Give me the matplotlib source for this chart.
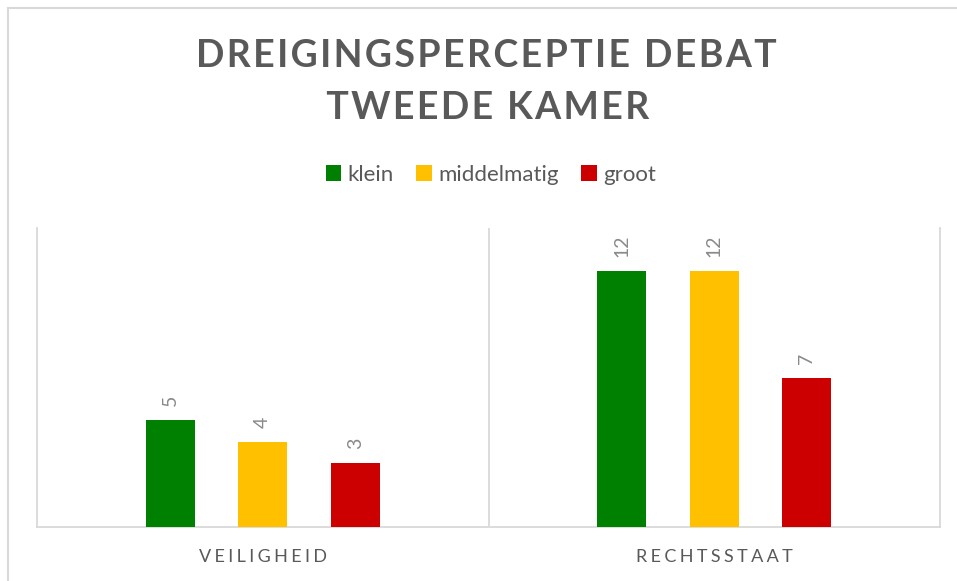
import numpy as np
import matplotlib.pyplot as plt
from matplotlib.lines import Line2D

plt.rcParams['font.family'] = ['Lato', 'DejaVu Sans']

# data
categories = ['VEILIGHEID', 'RECHTSSTAAT']
series_names = ['klein', 'middelmatig', 'groot']
klein = [5, 12]
middelmatig = [4, 12]
groot = [3, 7]
series_values = [klein, middelmatig, groot]
colors = ['#008000', '#FFC000', '#CC0000']

title = 'DREIGINGSPERCEPTIE DEBAT\nTWEEDE KAMER'

W, H = 957, 581
fig = plt.figure(figsize=(W / 100, H / 100), dpi=100)
ax = fig.add_axes([37 / W, 1 - 527 / H, (940 - 37) / W, (527 - 228) / H])

def spaced(s, sep):
    # fake letter spacing
    return sep.join(s)

x = np.arange(len(categories))
offsets = [-0.205, 0.0, 0.205]
bw = 0.109
bars = []
for vals, off, c, name in zip(series_values, offsets, colors, series_names):
    b = ax.bar(x + off, vals, bw, color=c, label=name, zorder=3)
    bars.append(b)
    for xi, v in zip(x + off, vals):
        ax.annotate(str(v), (xi, v), xytext=(0, 10), textcoords='offset points',
                    rotation=90, ha='center', va='bottom', fontsize=14,
                    color='#8a8a8a')

ax.set_xlim(-0.5, len(categories) - 0.5)
ax.set_ylim(0, 14)
ax.set_yticks([])
ax.set_xticks(x)
ax.set_xticklabels([spaced(c, '\u2009\u200a') for c in categories], fontsize=13,
                   color='#595959')
ax.tick_params(axis='x', length=0, pad=16)
for xv in np.arange(0.5, len(categories) - 0.5):
    ax.axvline(xv, color='#d9d9d9', lw=1.3, zorder=1)
for s in ['left', 'right', 'bottom']:
    ax.spines[s].set_color('#d9d9d9')
    ax.spines[s].set_linewidth(1.3)
ax.spines['top'].set_visible(False)

fig.text(0.509, 1 - 82 / H, spaced(title, '\u200a'), ha='center', va='center',
         fontsize=27, fontweight='bold', color='#595959', linespacing=1.65)

fig.legend(handles=bars, loc='center', bbox_to_anchor=(0.513, 1 - 175 / H),
           ncol=3, frameon=False, fontsize=16, handlelength=0.7,
           handleheight=0.7, handletextpad=0.3, columnspacing=1.0,
           labelcolor='#595959')

# outer chart frame
fig.add_artist(Line2D([8 / W, 8 / W], [0, 1 - 8 / H], color='#d9d9d9', lw=1.5))
fig.add_artist(Line2D([8 / W, 1], [1 - 8 / H, 1 - 8 / H], color='#d9d9d9', lw=1.5))

fig.savefig('out.png', dpi=100)
